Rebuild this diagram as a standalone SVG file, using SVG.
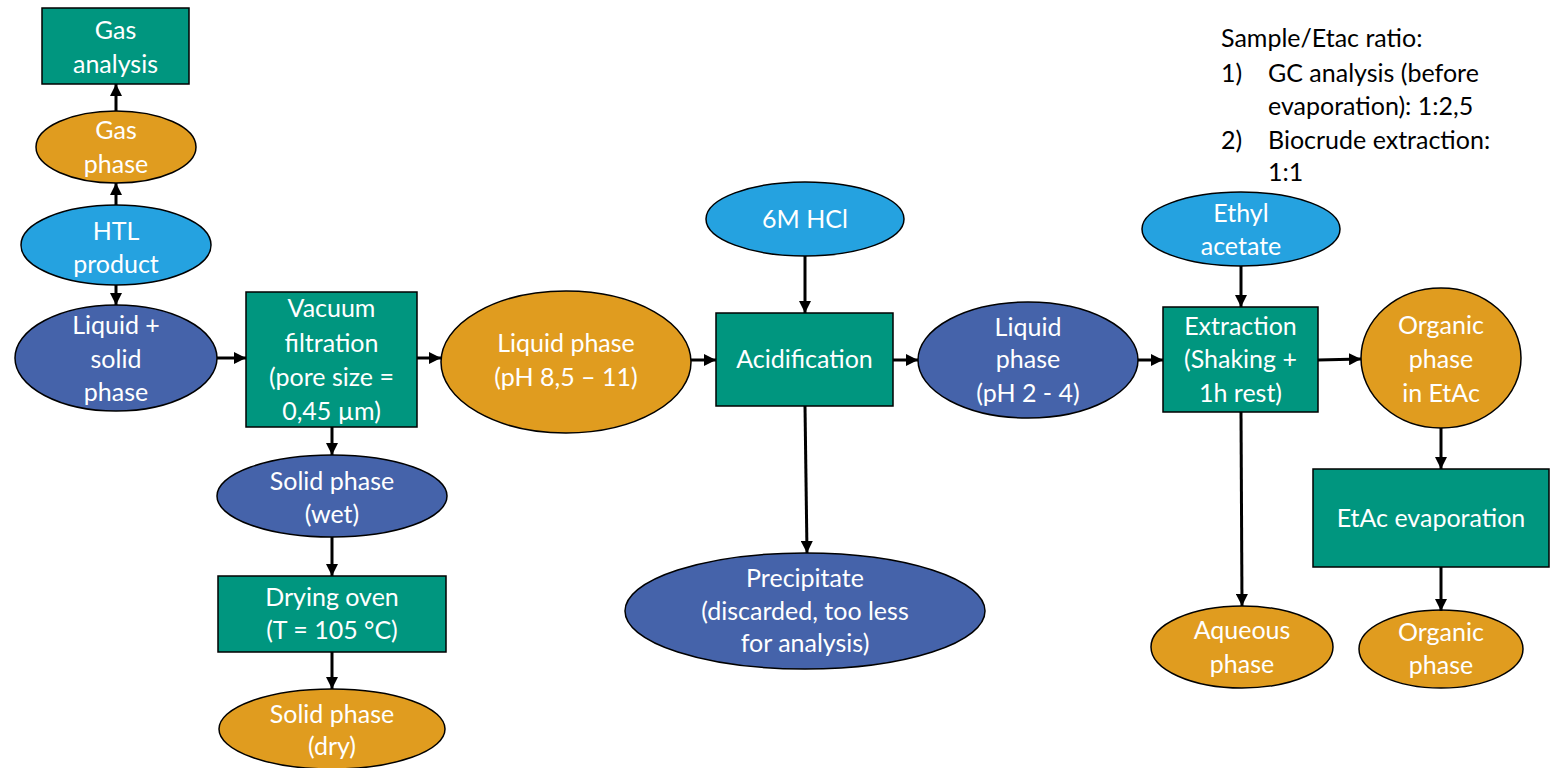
<svg xmlns="http://www.w3.org/2000/svg" width="1550" height="768" viewBox="0 0 1550 768">
<defs>
<marker id="ah" markerUnits="userSpaceOnUse" markerWidth="12" markerHeight="12" viewBox="0 0 12 12" refX="12" refY="6" orient="auto">
<path d="M0,0 L12,6 L0,12 Z" fill="#000"/>
</marker>
</defs>
<style>
.t{font-family:Lato,"Liberation Sans",sans-serif;font-size:25px;fill:#fff;text-anchor:middle}
.n{font-family:Lato,"Liberation Sans",sans-serif;font-size:25px;fill:#000}
.teal{fill:#00967F;stroke:#000;stroke-width:1.5}
.org{fill:#E09C1F;stroke:#000;stroke-width:1.5}
.navy{fill:#4563AA;stroke:#000;stroke-width:1.5}
.sky{fill:#25A2E0;stroke:#000;stroke-width:1.5}
.c line{stroke:#000;stroke-width:3;marker-end:url(#ah)}
</style>
<rect width="1550" height="768" fill="#fff"/>

<g id="gas-analysis"><rect class="teal" x="42" y="8" width="147" height="76"/><text class="t" x="115.5" y="39">Gas</text><text class="t" x="115.5" y="73">analysis</text></g>
<g id="gas-phase"><ellipse class="org" cx="116" cy="147" rx="80" ry="36"/><text class="t" x="116" y="139">Gas</text><text class="t" x="116" y="173">phase</text></g>
<g id="htl-product"><ellipse class="sky" cx="116" cy="245" rx="95" ry="40"/><text class="t" x="116" y="240">HTL</text><text class="t" x="116" y="273">product</text></g>
<g id="liquid-solid"><ellipse class="navy" cx="116" cy="358" rx="101" ry="53"/><text class="t" x="116" y="334">Liquid +</text><text class="t" x="116" y="368">solid</text><text class="t" x="116" y="401">phase</text></g>
<g id="vacuum-filtration"><rect class="teal" x="246" y="292" width="171" height="135"/><text class="t" x="331.5" y="317">Vacuum</text><text class="t" x="331.5" y="352">filtration</text><text class="t" x="331.5" y="386">(pore size =</text><text class="t" x="331.5" y="420">0,45 µm)</text></g>
<g id="solid-wet"><ellipse class="navy" cx="332" cy="496" rx="115" ry="41"/><text class="t" x="332" y="490">Solid phase</text><text class="t" x="332" y="523">(wet)</text></g>
<g id="drying-oven"><rect class="teal" x="218" y="576" width="228" height="76"/><text class="t" x="332" y="606">Drying oven</text><text class="t" x="332" y="639">(T = 105 °C)</text></g>
<g id="solid-dry"><ellipse class="org" cx="332" cy="729" rx="113" ry="40"/><text class="t" x="332" y="723">Solid phase</text><text class="t" x="332" y="755">(dry)</text></g>
<g id="liquid-phase-basic"><ellipse class="org" cx="566" cy="362" rx="125" ry="71"/><text class="t" x="566" y="352">Liquid phase</text><text class="t" x="566" y="386">(pH 8,5 – 11)</text></g>
<g id="hcl"><ellipse class="sky" cx="805" cy="219" rx="99" ry="37"/><text class="t" x="805" y="228">6M HCl</text></g>
<g id="acidification"><rect class="teal" x="716" y="313" width="177" height="93"/><text class="t" x="804.5" y="368">Acidification</text></g>
<g id="precipitate"><ellipse class="navy" cx="805" cy="611" rx="180" ry="58"/><text class="t" x="805" y="587">Precipitate</text><text class="t" x="805" y="620">(discarded, too less</text><text class="t" x="805" y="652">for analysis)</text></g>
<g id="liquid-phase-acid"><ellipse class="navy" cx="1028" cy="360" rx="110" ry="58"/><text class="t" x="1028" y="336">Liquid</text><text class="t" x="1028" y="368">phase</text><text class="t" x="1028" y="402">(pH 2 - 4)</text></g>
<g id="ethyl-acetate"><ellipse class="sky" cx="1241" cy="229" rx="99" ry="37"/><text class="t" x="1241" y="222">Ethyl</text><text class="t" x="1241" y="255">acetate</text></g>
<g id="extraction"><rect class="teal" x="1163" y="307" width="155" height="105"/><text class="t" x="1240.5" y="335">Extraction</text><text class="t" x="1240.5" y="368">(Shaking +</text><text class="t" x="1240.5" y="402">1h rest)</text></g>
<g id="organic-etac"><ellipse class="org" cx="1441" cy="358" rx="80" ry="70"/><text class="t" x="1441" y="334">Organic</text><text class="t" x="1441" y="368">phase</text><text class="t" x="1441" y="402">in EtAc</text></g>
<g id="etac-evaporation"><rect class="teal" x="1313" y="469" width="236" height="98"/><text class="t" x="1431" y="527">EtAc evaporation</text></g>
<g id="aqueous-phase"><ellipse class="org" cx="1242" cy="647" rx="91" ry="41"/><text class="t" x="1242" y="639">Aqueous</text><text class="t" x="1242" y="673">phase</text></g>
<g id="organic-phase"><ellipse class="org" cx="1441" cy="649" rx="82" ry="39"/><text class="t" x="1441" y="641">Organic</text><text class="t" x="1441" y="674">phase</text></g>

<g id="note">
<text class="n" x="1221" y="47">Sample/Etac ratio:</text>
<text class="n" x="1221" y="82">1)</text><text class="n" x="1268" y="82">GC analysis (before</text>
<text class="n" x="1268" y="115">evaporation): 1:2,5</text>
<text class="n" x="1221" y="149">2)</text><text class="n" x="1268" y="149">Biocrude extraction:</text>
<text class="n" x="1268" y="181">1:1</text>
</g>

<g id="connectors" class="c">
<line x1="116" y1="111" x2="116" y2="84"/>
<line x1="116" y1="205" x2="116" y2="183"/>
<line x1="116" y1="285" x2="116" y2="305"/>
<line x1="217" y1="358" x2="246" y2="358"/>
<line x1="417" y1="358" x2="441" y2="358"/>
<line x1="332" y1="427" x2="332" y2="455"/>
<line x1="332" y1="537" x2="332" y2="576"/>
<line x1="332" y1="652" x2="332" y2="689"/>
<line x1="691" y1="360" x2="716" y2="360"/>
<line x1="805" y1="256" x2="805" y2="313"/>
<line x1="805" y1="406" x2="807" y2="553"/>
<line x1="893" y1="360" x2="918" y2="360"/>
<line x1="1138" y1="360" x2="1163" y2="360"/>
<line x1="1241" y1="266" x2="1241" y2="307"/>
<line x1="1318" y1="360" x2="1361" y2="359"/>
<line x1="1241" y1="412" x2="1242" y2="606"/>
<line x1="1441" y1="428" x2="1441" y2="469"/>
<line x1="1441" y1="567" x2="1441" y2="611"/>
</g>
</svg>
